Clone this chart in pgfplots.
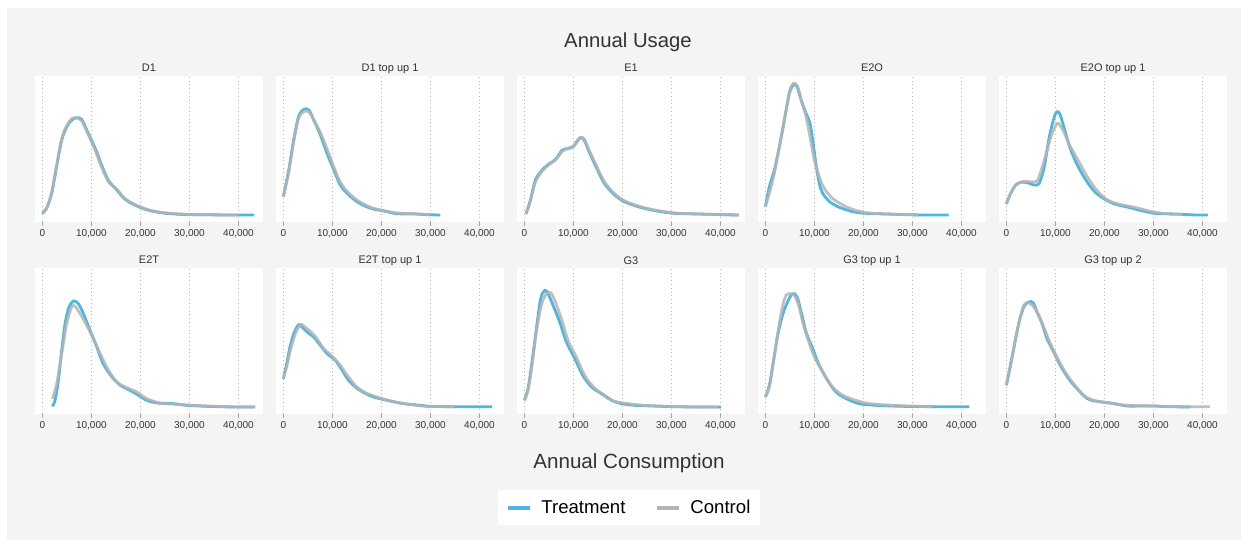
\documentclass[border=0pt]{standalone}
\usepackage{fontspec}
\setmainfont{Liberation Sans}
\usepackage{pgfplots}
\pgfplotsset{compat=1.18}
\definecolor{bgcol}{HTML}{F4F4F4}
\definecolor{treat}{HTML}{4DB6E2}
\definecolor{ctrl}{HTML}{B4B4B4}
\definecolor{labcol}{HTML}{333333}
\pgfplotsset{
 panel/.style={
  scale only axis, width=228pt, height=146pt,
  xmin=-1.5, xmax=45, ymin=0, ymax=438,
  axis line style={draw=none},
  axis background/.style={fill=white},
  xtick={0,10,20,30,40},
  xticklabels={0,{10,000},{20,000},{30,000},{40,000}},
  ytick=\empty,
  xtick pos=left,
  xmajorgrids,
  grid style={black!28, line width=0.8pt, dash pattern=on 0.8pt off 3pt},
  xtick style={black!35, line width=0.7pt},
  xtick align=outside, major tick length=4pt,
  ticklabel style={font=\fontsize{10}{12}\selectfont, text=labcol},
  every axis title/.style={font=\fontsize{11}{13}\selectfont, text=labcol, at={(0.5,1)}, anchor=base, yshift=4pt},
 },
 tr/.style={treat, line width=2.8pt, smooth, tension=0.5, no markers},
 ct/.style={ctrl, line width=2.8pt, smooth, tension=0.5, no markers, opacity=0.85},
}
\begin{document}
\begin{tikzpicture}[x=1pt,y=1pt]
\fill[white] (0,0) rectangle (1248,544);
\fill[bgcol] (7,4) rectangle (1241,536);
\node[font=\fontsize{20.3}{24}\selectfont, text=labcol] at (628,502) {Annual Usage};
\node[font=\fontsize{20.6}{24}\selectfont, text=labcol] at (629,81) {Annual Consumption};

% ---------- top row ----------
\begin{axis}[panel, at={(35pt,322pt)}, anchor=south west, title={D1}]
\addplot[tr] coordinates {(0,26)(0.88,41)(1.9,86)(2.9,166)(3.95,246)(5.0,286)(6.0,306)(7.0,313)(8.0,308)(9.0,278)(10.1,243)(11.1,210)(12.1,170)(13.5,124)(15.2,96)(16.5,73)(17.9,58)(19.9,44)(22.0,34)(24.7,27)(28.1,23)(31.5,22)(38.3,21)(43.2,21)};
\addplot[ct] coordinates {(0,26)(0.88,43)(1.9,88)(2.9,170)(3.95,250)(5.0,290)(6.0,310)(7.0,312)(8.0,304)(9.0,274)(10.1,238)(11.1,203)(12.1,164)(13.5,120)(15.2,98)(16.5,75)(17.9,60)(19.9,46)(22.0,35)(24.7,28)(28.1,24)(31.5,22)(40.0,21)};
\end{axis}

\begin{axis}[panel, at={(276pt,322pt)}, anchor=south west, title={D1 top up 1}]
\addplot[tr] coordinates {(0,76)(1.1,156)(2.1,246)(3.1,316)(4.15,338)(5.2,336)(6.2,306)(7.55,261)(8.9,206)(10.3,156)(11.6,111)(13.0,86)(15.0,61)(17.8,41)(20.5,33)(23.2,25)(26.6,24)(29.3,22)(32.0,21)};
\addplot[ct] coordinates {(0,76)(1.1,150)(2.1,240)(3.1,310)(4.15,331)(5.2,330)(6.2,306)(7.55,268)(8.9,220)(10.3,165)(11.6,120)(13.0,92)(15.0,66)(17.8,44)(20.5,34)(23.2,27)(26.6,25)(30.0,22)};
\end{axis}

\begin{axis}[panel, at={(517pt,322pt)}, anchor=south west, title={E1}]
\addplot[tr] coordinates {(0.34,24)(1.23,66)(2.26,126)(3.63,156)(5.0,174)(6.37,188)(7.74,216)(8.9,220)(10.0,226)(10.8,243)(11.5,253)(12.2,246)(13.2,211)(14.6,166)(16.3,116)(18.4,81)(20.4,61)(23.2,46)(26.6,34)(30.7,26)(35.5,24)(40.3,22)(43.7,21)};
\addplot[ct] coordinates {(0.34,24)(1.23,62)(2.26,120)(3.63,152)(5.0,172)(6.37,186)(7.74,212)(8.9,221)(10.0,228)(10.8,245)(11.5,254)(12.2,249)(13.2,216)(14.6,172)(16.3,121)(18.4,85)(20.4,64)(23.2,48)(26.6,36)(30.7,27)(35.5,24)(40.3,22)(43.7,21)};
\end{axis}

\begin{axis}[panel, at={(758pt,322pt)}, anchor=south west, title={E2O}]
\addplot[tr] coordinates {(0,46)(0.82,106)(1.84,156)(2.86,226)(3.88,306)(4.9,386)(5.71,411)(6.39,408)(7.3,366)(8.3,326)(9.1,296)(9.66,246)(10.3,176)(11.0,116)(11.7,86)(13.1,61)(15.1,44)(17.8,31)(20.5,26)(24.6,24)(31.4,21)(37.4,21)};
\addplot[ct] coordinates {(0,46)(0.82,86)(1.84,146)(2.86,226)(3.88,306)(4.9,391)(5.71,416)(6.6,406)(7.5,356)(8.3,316)(9.1,256)(10.0,186)(11.0,136)(12.0,101)(13.7,71)(15.8,51)(17.8,38)(20.5,28)(24.6,24)(31.1,22)};
\end{axis}

\begin{axis}[panel, at={(999pt,322pt)}, anchor=south west, title={E2O top up 1}]
\addplot[tr] coordinates {(0,54)(0.89,86)(1.92,111)(2.95,119)(4.3,118)(5.68,111)(6.71,116)(7.74,166)(8.77,256)(9.8,316)(10.4,331)(11.0,321)(11.9,276)(12.9,226)(14.3,176)(16.0,131)(18.0,91)(20.1,68)(22.1,54)(24.9,44)(27.6,34)(30.3,26)(34.4,24)(38.6,21)(41.1,21)};
\addplot[ct] coordinates {(0,54)(0.89,86)(1.92,111)(3.29,121)(5.0,121)(6.37,126)(7.74,186)(9.1,256)(10.4,296)(11.5,276)(12.9,231)(14.6,186)(16.3,141)(18.4,96)(20.4,68)(22.8,54)(26.2,44)(29.7,31)(33.1,24)(35.8,23)};
\end{axis}

% ---------- bottom row ----------
\begin{axis}[panel, at={(35pt,130pt)}, anchor=south west, title={E2T}]
\addplot[tr] coordinates {(2.04,23)(2.59,41)(3.27,101)(3.95,191)(4.63,271)(5.44,321)(6.33,339)(7.35,331)(8.37,301)(9.73,251)(11.1,201)(12.4,151)(14.2,111)(15.9,86)(17.6,73)(19.3,59)(21.3,41)(23.4,33)(26.7,31)(29.5,26)(33.5,23)(39.0,21)(43.4,21)};
\addplot[ct] coordinates {(2.04,46)(2.93,91)(3.95,181)(4.97,271)(5.99,321)(6.67,323)(7.69,301)(9.05,266)(10.4,226)(11.8,181)(13.5,131)(15.2,96)(17.2,79)(19.3,66)(21.3,46)(24.0,33)(27.4,29)(30.8,26)(35.6,23)(40.3,21)(43.4,21)};
\end{axis}

\begin{axis}[panel, at={(276pt,130pt)}, anchor=south west, title={E2T top up 1}]
\addplot[tr] coordinates {(0,106)(0.75,156)(1.43,206)(2.24,246)(3.13,268)(3.81,261)(4.83,246)(6.19,231)(7.55,206)(8.91,181)(10.6,161)(12.0,131)(13.3,101)(14.7,81)(16.4,64)(18.4,51)(21.2,41)(24.6,31)(28.0,26)(30.0,23)(34.8,22)(42.6,22)};
\addplot[ct] coordinates {(0,106)(0.75,146)(1.43,191)(2.45,241)(3.47,268)(4.15,264)(5.51,248)(6.87,226)(8.23,196)(9.93,174)(11.6,146)(13.3,111)(15.0,81)(16.7,64)(19.1,51)(21.8,39)(25.2,30)(29.3,23)(34.8,22)};
\end{axis}

\begin{axis}[panel, at={(517pt,130pt)}, anchor=south west, title={G3},
  legend style={at={(0.493,-0.52)}, anchor=north, draw=none, fill=white,
    font=\fontsize{18.6}{22}\selectfont, text=black, inner xsep=8pt, inner ysep=8pt,
    /tikz/every even column/.append style={column sep=28pt}},
  legend columns=2,
  legend image code/.code={\draw[#1, line width=4pt, opacity=1] (0pt,0pt) -- (22pt,0pt); \path[draw=none, fill=none] (0pt,0pt) -- (31pt,0pt);}]
\addplot[tr] coordinates {(0,41)(0.75,76)(1.56,156)(2.45,256)(3.33,346)(4.15,371)(4.83,361)(5.85,326)(7.21,276)(8.57,216)(10.3,166)(11.9,116)(13.7,81)(15.7,61)(17.8,41)(19.8,31)(22.5,26)(26.0,24)(30.0,22)(35.4,21)(40.1,21)};
\addlegendentry{Treatment}
\addplot[ct] coordinates {(0,41)(0.75,71)(1.56,146)(2.45,246)(3.47,326)(4.49,361)(5.37,364)(6.19,341)(7.55,286)(8.91,221)(10.6,171)(12.3,116)(14.3,78)(16.4,56)(18.4,38)(21.2,31)(24.6,26)(29.3,23)(35.4,21)(39.5,21)};
\addlegendentry{Control}
\end{axis}

\begin{axis}[panel, at={(758pt,130pt)}, anchor=south west, title={G3 top up 1}]
\addplot[tr] coordinates {(0,51)(0.82,86)(1.63,156)(2.52,236)(3.4,291)(4.22,326)(5.24,356)(5.92,361)(6.6,346)(7.48,296)(8.3,246)(9.66,196)(11.0,146)(12.7,101)(14.4,66)(16.5,46)(19.2,31)(22.6,26)(28.0,23)(34.8,22)(41.6,22)};
\addplot[ct] coordinates {(0,51)(0.82,81)(1.63,156)(2.52,241)(3.4,316)(4.22,356)(5.24,361)(5.92,356)(6.8,326)(7.62,276)(8.64,226)(10.0,171)(11.7,126)(13.7,81)(15.8,56)(18.5,41)(21.2,31)(26.0,26)(31.4,23)(34.1,22)};
\end{axis}

\begin{axis}[panel, at={(999pt,130pt)}, anchor=south west, title={G3 top up 2}]
\addplot[tr] coordinates {(0,86)(0.82,146)(1.63,206)(2.52,271)(3.54,321)(4.56,336)(5.44,334)(6.26,306)(7.28,271)(8.3,226)(9.66,186)(11.0,146)(12.7,106)(14.4,76)(16.5,46)(18.5,38)(21.2,33)(24.6,24)(27.3,24)(30.1,24)(32.8,22)(37.6,21)};
\addplot[ct] coordinates {(0,86)(0.82,141)(1.63,206)(2.52,271)(3.54,326)(4.56,334)(5.58,321)(6.6,296)(7.62,261)(8.98,211)(10.3,171)(12.0,126)(13.7,91)(15.8,56)(17.8,41)(20.5,34)(24.6,26)(30.1,24)(35.4,22)(41.5,22)};
\end{axis}
\end{tikzpicture}
\end{document}
